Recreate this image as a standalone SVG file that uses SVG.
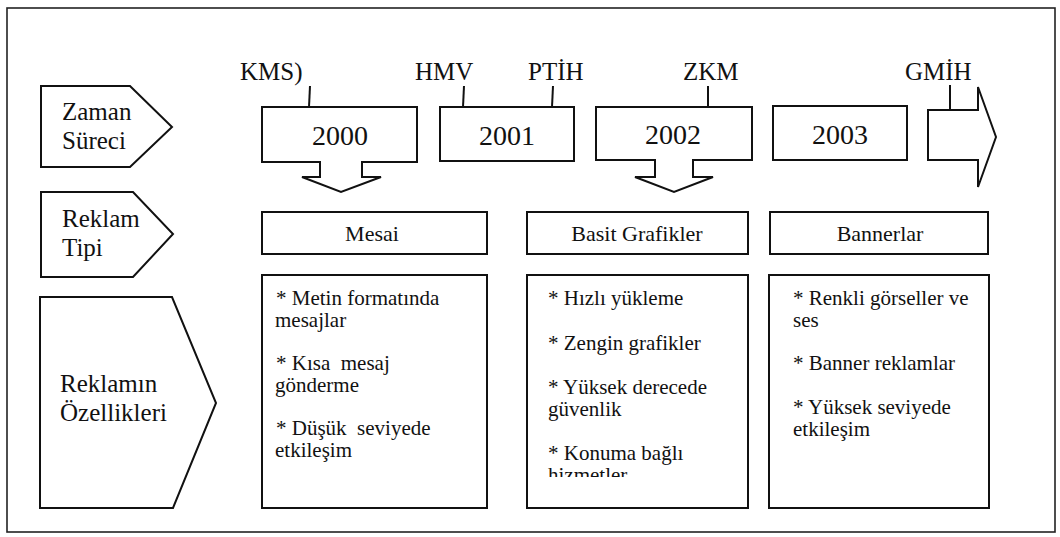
<svg xmlns="http://www.w3.org/2000/svg" width="1060" height="537" viewBox="0 0 1060 537">
  <defs>
    <clipPath id="clip-col2">
      <rect x="530" y="276" width="216" height="201"/>
    </clipPath>
  </defs>

  <rect x="0" y="0" width="1060" height="537" fill="#fff"/>
  <rect x="7" y="8" width="1048" height="524" fill="none" stroke="#222" stroke-width="1.6"/>

  <!-- row labels -->
  <g id="row-zaman">
    <path d="M41,86 H130 L172,127 L130,167 H41 Z" fill="#fff" stroke="#111" stroke-width="2"/>
    <text x="62" y="120" font-family="Liberation Serif" font-size="25" fill="#111">Zaman</text>
    <text x="62" y="149" font-family="Liberation Serif" font-size="25" fill="#111">Süreci</text>
  </g>
  <g id="row-tip">
    <path d="M41,192 H133 L173,234 L133,277 H41 Z" fill="#fff" stroke="#111" stroke-width="2"/>
    <text x="62" y="227" font-family="Liberation Serif" font-size="25" fill="#111">Reklam</text>
    <text x="62" y="256" font-family="Liberation Serif" font-size="25" fill="#111">Tipi</text>
  </g>
  <g id="row-ozellik">
    <path d="M40,297 H172 L216,403 L173,508 H40 Z" fill="#fff" stroke="#111" stroke-width="2"/>
    <text x="60" y="392" font-family="Liberation Serif" font-size="25" fill="#111">Reklamın</text>
    <text x="60" y="421" font-family="Liberation Serif" font-size="25" fill="#111">Özellikleri</text>
  </g>

  <!-- timeline year boxes -->
  <g id="year-2000">
    <path d="M262,107 H417 V162 H362 V177 H381 L341,192 L302,177 H320 V162 H262 Z" fill="#fff" stroke="#111" stroke-width="2"/>
    <text x="340" y="145" font-family="Liberation Serif" font-size="28" text-anchor="middle" fill="#111">2000</text>
  </g>
  <g id="year-2001">
    <rect x="440" y="107" width="134" height="54" fill="#fff" stroke="#111" stroke-width="2"/>
    <text x="507" y="145" font-family="Liberation Serif" font-size="28" text-anchor="middle" fill="#111">2001</text>
  </g>
  <g id="year-2002">
    <path d="M596,107 H752 V160 H693 V177 H713 L674,192 L635,177 H655 V160 H596 Z" fill="#fff" stroke="#111" stroke-width="2"/>
    <text x="673" y="144" font-family="Liberation Serif" font-size="28" text-anchor="middle" fill="#111">2002</text>
  </g>
  <g id="year-2003">
    <rect x="773" y="106" width="134" height="54" fill="#fff" stroke="#111" stroke-width="2"/>
    <text x="840" y="144" font-family="Liberation Serif" font-size="28" text-anchor="middle" fill="#111">2003</text>
  </g>
  <g id="year-next">
    <path d="M928,110 H978 V87 L996,137 L978,187 V160 H928 Z" fill="#fff" stroke="#111" stroke-width="2"/>
  </g>

  <!-- technology tags -->
  <g id="tag-kms"><text x="240" y="80" font-family="Liberation Serif" font-size="25" fill="#111">KMS)</text></g>
  <g id="tag-hmv"><text x="415" y="80" font-family="Liberation Serif" font-size="25" fill="#111">HMV</text></g>
  <g id="tag-ptih"><text x="528" y="80" font-family="Liberation Serif" font-size="25" fill="#111">PTİH</text></g>
  <g id="tag-zkm"><text x="683" y="80" font-family="Liberation Serif" font-size="25" fill="#111">ZKM</text></g>
  <g id="tag-gmih"><text x="905" y="80" font-family="Liberation Serif" font-size="25" fill="#111">GMİH</text></g>

  <!-- ad type headers -->
  <g id="type-mesai">
    <rect x="262" y="212" width="225" height="42" fill="#fff" stroke="#111" stroke-width="2"/>
    <text x="372" y="241" font-family="Liberation Serif" font-size="22" text-anchor="middle" fill="#111">Mesai</text>
  </g>
  <g id="type-grafik">
    <rect x="527" y="212" width="221" height="42" fill="#fff" stroke="#111" stroke-width="2"/>
    <text x="637" y="241" font-family="Liberation Serif" font-size="22" text-anchor="middle" fill="#111">Basit Grafikler</text>
  </g>
  <g id="type-banner">
    <rect x="770" y="212" width="218" height="42" fill="#fff" stroke="#111" stroke-width="2"/>
    <text x="880" y="241" font-family="Liberation Serif" font-size="22" text-anchor="middle" fill="#111">Bannerlar</text>
  </g>

  <!-- feature lists -->
  <g id="feat-mesai">
    <rect x="262" y="275" width="225" height="233" fill="#fff" stroke="#111" stroke-width="2"/>
    <text x="276" y="305" font-family="Liberation Serif" font-size="21" fill="#111">* Metin formatında</text>
    <text x="275" y="327" font-family="Liberation Serif" font-size="21" fill="#111">mesajlar</text>
    <text x="276" y="370" font-family="Liberation Serif" font-size="21" fill="#111">* Kısa&#160; mesaj</text>
    <text x="275" y="392" font-family="Liberation Serif" font-size="21" fill="#111">gönderme</text>
    <text x="276" y="435" font-family="Liberation Serif" font-size="21" fill="#111">* Düşük&#160; seviyede</text>
    <text x="275" y="457" font-family="Liberation Serif" font-size="21" fill="#111">etkileşim</text>
  </g>
  <g id="feat-grafik">
    <rect x="527" y="275" width="221" height="233" fill="#fff" stroke="#111" stroke-width="2"/>
    <g clip-path="url(#clip-col2)">
      <text x="548" y="305" font-family="Liberation Serif" font-size="21" fill="#111">* Hızlı yükleme</text>
      <text x="548" y="350" font-family="Liberation Serif" font-size="21" fill="#111">* Zengin grafikler</text>
      <text x="548" y="394" font-family="Liberation Serif" font-size="21" fill="#111">* Yüksek derecede</text>
      <text x="548" y="416" font-family="Liberation Serif" font-size="21" fill="#111">güvenlik</text>
      <text x="548" y="460" font-family="Liberation Serif" font-size="21" fill="#111">* Konuma bağlı</text>
      <text x="548" y="482" font-family="Liberation Serif" font-size="21" fill="#111">hizmetler</text>
    </g>
  </g>
  <g id="feat-banner">
    <rect x="769" y="275" width="220" height="233" fill="#fff" stroke="#111" stroke-width="2"/>
    <text x="793" y="305" font-family="Liberation Serif" font-size="21" fill="#111">* Renkli görseller ve</text>
    <text x="793" y="327" font-family="Liberation Serif" font-size="21" fill="#111">ses</text>
    <text x="793" y="370" font-family="Liberation Serif" font-size="21" fill="#111">* Banner reklamlar</text>
    <text x="793" y="414" font-family="Liberation Serif" font-size="21" fill="#111">* Yüksek seviyede</text>
    <text x="793" y="436" font-family="Liberation Serif" font-size="21" fill="#111">etkileşim</text>
  </g>

  <!-- leaders from tags to the timeline -->
  <g id="connectors" stroke="#111" stroke-width="2" fill="none">
    <line x1="310" y1="86" x2="309" y2="107"/>
    <line x1="464" y1="86" x2="463" y2="107"/>
    <line x1="553" y1="86" x2="552" y2="107"/>
    <line x1="708" y1="86" x2="708" y2="107"/>
    <line x1="950" y1="85" x2="950" y2="110"/>
  </g>
</svg>
